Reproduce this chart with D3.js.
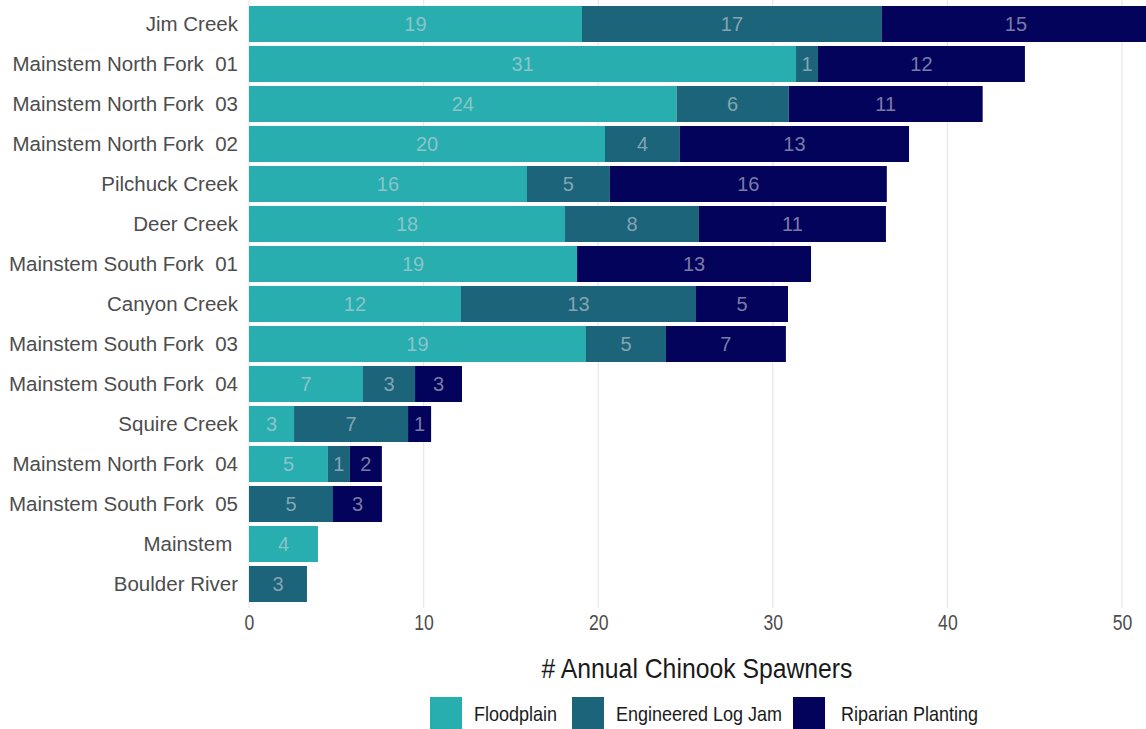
<!DOCTYPE html>
<html>
<head>
<meta charset="utf-8">
<script src="https://cdn.jsdelivr.net/npm/d3@7"></script>
<style>
  body { margin: 0; background: #fff; }
  text { font-family: "Liberation Sans", Arial, sans-serif; }
</style>
</head>
<body>
<div id="chart"></div>
<script>
// chart data, top row first
var sites = ['Jim Creek', 'Mainstem North Fork  01', 'Mainstem North Fork  03', 'Mainstem North Fork  02',
	'Pilchuck Creek', 'Deer Creek', 'Mainstem South Fork  01', 'Canyon Creek', 'Mainstem South Fork  03',
	'Mainstem South Fork  04', 'Squire Creek', 'Mainstem North Fork  04', 'Mainstem South Fork  05',
	'Mainstem ', 'Boulder River'];
var floodplain = [19.07, 31.33, 24.49, 20.39, 15.92, 18.1, 18.79, 12.14, 19.3, 6.53, 2.58, 4.52, 0, 3.95, 0];
var logJam = [17.18, 1.26, 6.42, 4.29, 4.75, 7.67, 0, 13.46, 4.58, 2.98, 6.53, 1.26, 4.81, 0, 3.32];
var riparian = [15.35, 11.85, 11.11, 13.12, 15.86, 10.71, 13.4, 5.27, 6.87, 2.69, 1.32, 1.83, 2.81, 0, 0];
var seriesNames = ['Floodplain', 'Engineered Log Jam', 'Riparian Planting'];
var xTicks = [0, 10, 20, 30, 40, 50];

var colors = ['#28aeae', '#1b6479', '#03035b'];

var svgWidth = 1146;
var svgHeight = 729;

var svg = d3.select('#chart').append('svg').attr('width', svgWidth).attr('height', svgHeight);

var x = d3.scaleLinear().domain([0, 50]).range([249, 1122]);
var y = d3.scaleBand().domain(sites).range([0, 608]).paddingInner(0.1).paddingOuter(0.15);

// gridlines
svg.append('g').selectAll('line')
	.data(xTicks)
	.enter()
	.append('line')
	.attr('x1', d => x(d)).attr('x2', d => x(d))
	.attr('y1', 0).attr('y2', 608)
	.attr('stroke', '#e8e8e8')
	.attr('stroke-width', 1.3);

// stacked data
var rows = sites.map(function(s, i) {
	return { site: s, Floodplain: floodplain[i], 'Engineered Log Jam': logJam[i], 'Riparian Planting': riparian[i] };
});
var stacked = d3.stack().keys(seriesNames)(rows);

svg.append('clipPath').attr('id', 'clip')
	.append('rect').attr('x', 249).attr('y', 0).attr('width', svgWidth - 249).attr('height', 610);

var plot = svg.append('g').attr('clip-path', 'url(#clip)');

var layers = plot.selectAll('g.layer')
	.data(stacked)
	.enter()
	.append('g')
	.attr('class', 'layer')
	.attr('fill', (d, i) => colors[i]);

layers.selectAll('rect')
	.data(d => d.filter(p => p[1] - p[0] > 0))
	.enter()
	.append('rect')
	.attr('x', d => x(d[0]))
	.attr('y', d => y(d.data.site))
	.attr('width', d => x(d[1]) - x(d[0]))
	.attr('height', y.bandwidth());

// value labels
layers.selectAll('text')
	.data(d => d.filter(p => p[1] - p[0] > 0))
	.enter()
	.append('text')
	.attr('x', d => x((d[0] + d[1]) / 2))
	.attr('y', d => y(d.data.site) + y.bandwidth() / 2)
	.attr('dy', '0.36em')
	.attr('text-anchor', 'middle')
	.attr('font-size', '20px')
	.attr('fill', '#d6d6e0')
	.attr('fill-opacity', 0.58)
	.text(d => Math.round(d[1] - d[0]));

// y axis labels
svg.append('g').selectAll('text')
	.data(sites)
	.enter()
	.append('text')
	.attr('x', 238)
	.attr('y', d => y(d) + y.bandwidth() / 2)
	.attr('dy', '0.36em')
	.attr('text-anchor', 'end')
	.attr('font-size', '20.5px')
	.attr('fill', '#4d4d4d')
	.style('white-space', 'pre')
	.text(d => d);

// x axis tick labels
var bottomAxis = d3.axisBottom(x).tickValues(xTicks).tickSize(0).tickPadding(0);
var xg = svg.append('g').attr('transform', 'translate(0, 614)').call(bottomAxis);
xg.select('.domain').remove();
xg.selectAll('text')
	.attr('font-size', '22px')
	.attr('fill', '#4d4d4d')
	.attr('font-family', '"Liberation Sans", Arial, sans-serif')
	.attr('transform', 'scale(0.8, 1)');

// axis title
svg.append('text')
	.attr('transform', 'translate(697, 678) scale(0.9, 1)')
	.attr('text-anchor', 'middle')
	.attr('font-size', '27.5px')
	.attr('fill', '#1a1a1a')
	.text('# Annual Chinook Spawners');

// legend
var legendX = [430, 572, 793];
var legend = svg.append('g').selectAll('g')
	.data(seriesNames)
	.enter()
	.append('g')
	.attr('transform', (d, i) => 'translate(' + legendX[i] + ', 697)');

legend.append('rect')
	.attr('width', 32)
	.attr('height', 34)
	.attr('fill', (d, i) => colors[i]);

legend.append('text')
	.attr('transform', (d, i) => 'translate(' + (i == 2 ? 48 : 44) + ', 24) scale(0.9, 1)')
	.attr('font-size', '20px')
	.attr('fill', '#1a1a1a')
	.text(d => d);
</script>
</body>
</html>
